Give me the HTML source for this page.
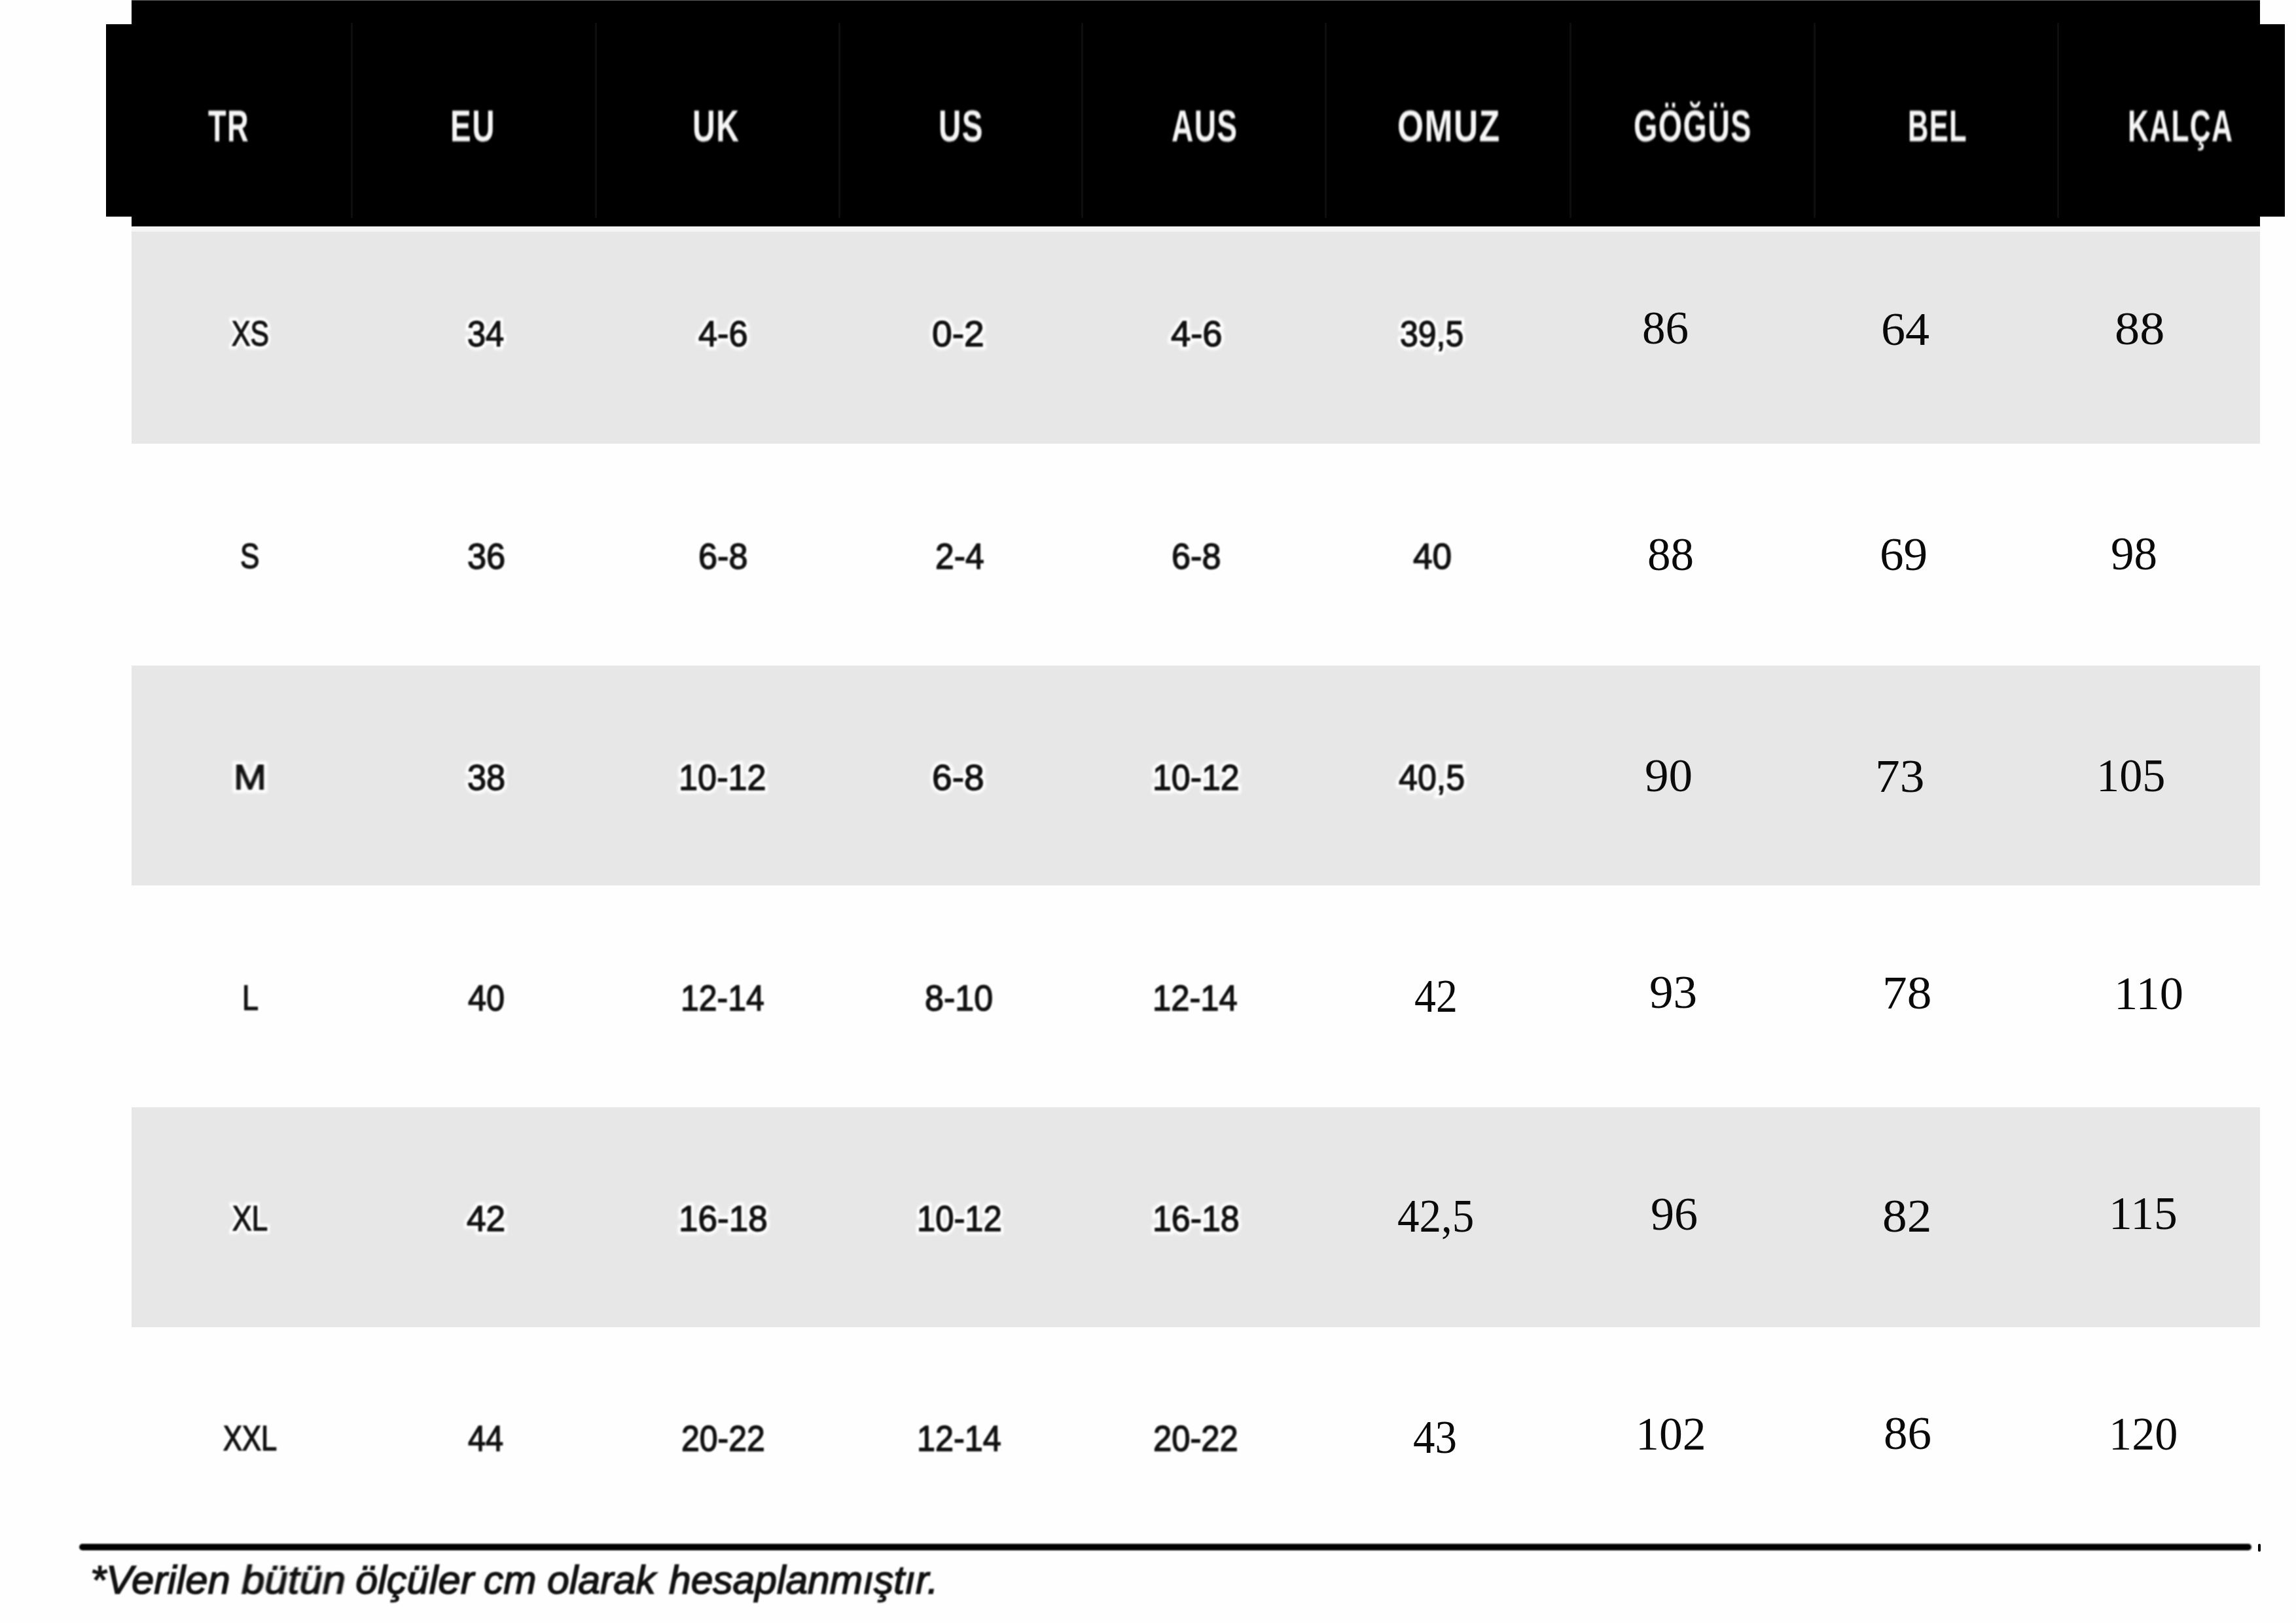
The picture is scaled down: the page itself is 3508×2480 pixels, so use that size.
<!DOCTYPE html>
<html><head><meta charset="utf-8">
<style>
html,body{margin:0;padding:0;}
body{width:3508px;height:2480px;background:#fefefe;position:relative;overflow:hidden;}
.b{position:absolute;}
.t{position:absolute;white-space:nowrap;line-height:1;transform-origin:0 0;}
.head{font-family:"Liberation Sans",sans-serif;font-weight:bold;color:#f6f6f6;filter:blur(1.6px);letter-spacing:2px;}
.sans{font-family:"Liberation Sans",sans-serif;color:#111;-webkit-text-stroke:1.5px #111;filter:blur(1.3px);}
.halo{font-family:"Liberation Sans",sans-serif;color:#fff;-webkit-text-stroke:11px #fff;filter:blur(2px);}
.serif{font-family:"Liberation Serif",serif;color:#0a0a0a;}
.foot{font-family:"Liberation Sans",sans-serif;font-style:italic;color:#111;-webkit-text-stroke:1.6px #111;filter:blur(1.3px);}
</style></head><body>
<div class="b" style="left:201px;top:0;width:3252px;height:346px;background:#000;"></div>
<div class="b" style="left:201px;top:0;width:3252px;height:1px;background:#5a5a5a;"></div>
<div class="b" style="left:162px;top:37px;width:39px;height:294px;background:#000;"></div>
<div class="b" style="left:3453px;top:37px;width:38px;height:294px;background:#000;"></div>
<div class="b" style="left:201px;top:347px;width:3252px;height:7px;background:#f5f5f5;"></div>
<div class="b" style="left:201px;top:354px;width:3252px;height:324px;background:#e7e7e7;"></div>
<div class="b" style="left:201px;top:1017px;width:3252px;height:336px;background:#e7e7e7;"></div>
<div class="b" style="left:201px;top:1692px;width:3252px;height:336px;background:#e7e7e7;"></div>
<div class="b" style="left:121px;top:2359px;width:3319px;height:10px;background:#000;border-radius:5px;filter:blur(1px);"></div>
<div class="b" style="left:3450px;top:2359px;width:4px;height:12px;background:#000;border-radius:2px;"></div>
<div class="b" style="left:536px;top:35px;width:3px;height:298px;background:#0e0e0e;"></div>
<div class="b" style="left:909px;top:35px;width:3px;height:298px;background:#0e0e0e;"></div>
<div class="b" style="left:1281px;top:35px;width:3px;height:298px;background:#0e0e0e;"></div>
<div class="b" style="left:1652px;top:35px;width:3px;height:298px;background:#0e0e0e;"></div>
<div class="b" style="left:2024px;top:35px;width:3px;height:298px;background:#0e0e0e;"></div>
<div class="b" style="left:2398px;top:35px;width:3px;height:298px;background:#0e0e0e;"></div>
<div class="b" style="left:2771px;top:35px;width:3px;height:298px;background:#0e0e0e;"></div>
<div class="b" style="left:3143px;top:35px;width:3px;height:298px;background:#0e0e0e;"></div>
<div class="t head" style="left:318.0px;top:157.8px;font-size:68.00px;transform:scaleX(0.6651)">TR</div>
<div class="t head" style="left:688.0px;top:157.8px;font-size:68.00px;transform:scaleX(0.6995)">EU</div>
<div class="t head" style="left:1058.0px;top:157.8px;font-size:68.00px;transform:scaleX(0.7070)">UK</div>
<div class="t head" style="left:1434.0px;top:157.8px;font-size:68.00px;transform:scaleX(0.6990)">US</div>
<div class="t head" style="left:1790.0px;top:157.8px;font-size:68.00px;transform:scaleX(0.6785)">AUS</div>
<div class="t head" style="left:2135.0px;top:157.8px;font-size:68.00px;transform:scaleX(0.7580)">OMUZ</div>
<div class="t head" style="left:2496.0px;top:157.8px;font-size:68.00px;transform:scaleX(0.6872)">GÖĞÜS</div>
<div class="t head" style="left:2915.0px;top:157.8px;font-size:68.00px;transform:scaleX(0.6401)">BEL</div>
<div class="t head" style="left:3251.0px;top:157.8px;font-size:68.00px;transform:scaleX(0.6503)">KALÇA</div>
<div class="t halo" style="left:354.0px;top:481.6px;font-size:54.00px;transform:scaleX(0.7904)">XS</div>
<div class="t sans" style="left:354.0px;top:481.6px;font-size:54.00px;transform:scaleX(0.7904)">XS</div>
<div class="t halo" style="left:714.0px;top:482.6px;font-size:55.00px;transform:scaleX(0.9183)">34</div>
<div class="t sans" style="left:714.0px;top:482.6px;font-size:55.00px;transform:scaleX(0.9183)">34</div>
<div class="t halo" style="left:1067.0px;top:482.6px;font-size:55.00px;transform:scaleX(0.9499)">4-6</div>
<div class="t sans" style="left:1067.0px;top:482.6px;font-size:55.00px;transform:scaleX(0.9499)">4-6</div>
<div class="t halo" style="left:1424.0px;top:482.6px;font-size:55.00px;transform:scaleX(1.0026)">0-2</div>
<div class="t sans" style="left:1424.0px;top:482.6px;font-size:55.00px;transform:scaleX(1.0026)">0-2</div>
<div class="t halo" style="left:1789.0px;top:482.6px;font-size:55.00px;transform:scaleX(0.9886)">4-6</div>
<div class="t sans" style="left:1789.0px;top:482.6px;font-size:55.00px;transform:scaleX(0.9886)">4-6</div>
<div class="t halo" style="left:2139.0px;top:482.6px;font-size:55.00px;transform:scaleX(0.9078)">39,5</div>
<div class="t sans" style="left:2139.0px;top:482.6px;font-size:55.00px;transform:scaleX(0.9078)">39,5</div>
<div class="t halo" style="left:367.0px;top:821.6px;font-size:54.00px;transform:scaleX(0.8151)">S</div>
<div class="t sans" style="left:367.0px;top:821.6px;font-size:54.00px;transform:scaleX(0.8151)">S</div>
<div class="t halo" style="left:714.0px;top:822.6px;font-size:55.00px;transform:scaleX(0.9508)">36</div>
<div class="t sans" style="left:714.0px;top:822.6px;font-size:55.00px;transform:scaleX(0.9508)">36</div>
<div class="t halo" style="left:1067.0px;top:822.6px;font-size:55.00px;transform:scaleX(0.9486)">6-8</div>
<div class="t sans" style="left:1067.0px;top:822.6px;font-size:55.00px;transform:scaleX(0.9486)">6-8</div>
<div class="t halo" style="left:1429.0px;top:822.6px;font-size:55.00px;transform:scaleX(0.9381)">2-4</div>
<div class="t sans" style="left:1429.0px;top:822.6px;font-size:55.00px;transform:scaleX(0.9381)">2-4</div>
<div class="t halo" style="left:1790.0px;top:822.6px;font-size:55.00px;transform:scaleX(0.9486)">6-8</div>
<div class="t sans" style="left:1790.0px;top:822.6px;font-size:55.00px;transform:scaleX(0.9486)">6-8</div>
<div class="t halo" style="left:2159.0px;top:822.6px;font-size:55.00px;transform:scaleX(0.9676)">40</div>
<div class="t sans" style="left:2159.0px;top:822.6px;font-size:55.00px;transform:scaleX(0.9676)">40</div>
<div class="t halo" style="left:357.0px;top:1160.6px;font-size:53.00px;transform:scaleX(1.1338)">M</div>
<div class="t sans" style="left:357.0px;top:1160.6px;font-size:53.00px;transform:scaleX(1.1338)">M</div>
<div class="t halo" style="left:714.0px;top:1160.6px;font-size:55.00px;transform:scaleX(0.9508)">38</div>
<div class="t sans" style="left:714.0px;top:1160.6px;font-size:55.00px;transform:scaleX(0.9508)">38</div>
<div class="t halo" style="left:1037.0px;top:1160.6px;font-size:55.00px;transform:scaleX(0.9504)">10-12</div>
<div class="t sans" style="left:1037.0px;top:1160.6px;font-size:55.00px;transform:scaleX(0.9504)">10-12</div>
<div class="t halo" style="left:1424.0px;top:1160.6px;font-size:55.00px;transform:scaleX(1.0012)">6-8</div>
<div class="t sans" style="left:1424.0px;top:1160.6px;font-size:55.00px;transform:scaleX(1.0012)">6-8</div>
<div class="t halo" style="left:1761.0px;top:1160.6px;font-size:55.00px;transform:scaleX(0.9432)">10-12</div>
<div class="t sans" style="left:1761.0px;top:1160.6px;font-size:55.00px;transform:scaleX(0.9432)">10-12</div>
<div class="t halo" style="left:2137.0px;top:1160.6px;font-size:55.00px;transform:scaleX(0.9456)">40,5</div>
<div class="t sans" style="left:2137.0px;top:1160.6px;font-size:55.00px;transform:scaleX(0.9456)">40,5</div>
<div class="t halo" style="left:370.0px;top:1497.6px;font-size:53.00px;transform:scaleX(0.8470)">L</div>
<div class="t sans" style="left:370.0px;top:1497.6px;font-size:53.00px;transform:scaleX(0.8470)">L</div>
<div class="t halo" style="left:715.0px;top:1497.6px;font-size:55.00px;transform:scaleX(0.9173)">40</div>
<div class="t sans" style="left:715.0px;top:1497.6px;font-size:55.00px;transform:scaleX(0.9173)">40</div>
<div class="t halo" style="left:1040.0px;top:1497.6px;font-size:55.00px;transform:scaleX(0.9079)">12-14</div>
<div class="t sans" style="left:1040.0px;top:1497.6px;font-size:55.00px;transform:scaleX(0.9079)">12-14</div>
<div class="t halo" style="left:1413.0px;top:1497.6px;font-size:55.00px;transform:scaleX(0.9456)">8-10</div>
<div class="t sans" style="left:1413.0px;top:1497.6px;font-size:55.00px;transform:scaleX(0.9456)">8-10</div>
<div class="t halo" style="left:1761.0px;top:1497.6px;font-size:55.00px;transform:scaleX(0.9222)">12-14</div>
<div class="t sans" style="left:1761.0px;top:1497.6px;font-size:55.00px;transform:scaleX(0.9222)">12-14</div>
<div class="t halo" style="left:355.0px;top:1834.6px;font-size:53.00px;transform:scaleX(0.8360)">XL</div>
<div class="t sans" style="left:355.0px;top:1834.6px;font-size:53.00px;transform:scaleX(0.8360)">XL</div>
<div class="t halo" style="left:713.0px;top:1834.6px;font-size:55.00px;transform:scaleX(0.9682)">42</div>
<div class="t sans" style="left:713.0px;top:1834.6px;font-size:55.00px;transform:scaleX(0.9682)">42</div>
<div class="t halo" style="left:1037.0px;top:1834.6px;font-size:55.00px;transform:scaleX(0.9651)">16-18</div>
<div class="t sans" style="left:1037.0px;top:1834.6px;font-size:55.00px;transform:scaleX(0.9651)">16-18</div>
<div class="t halo" style="left:1401.0px;top:1834.6px;font-size:55.00px;transform:scaleX(0.9217)">10-12</div>
<div class="t sans" style="left:1401.0px;top:1834.6px;font-size:55.00px;transform:scaleX(0.9217)">10-12</div>
<div class="t halo" style="left:1761.0px;top:1834.6px;font-size:55.00px;transform:scaleX(0.9436)">16-18</div>
<div class="t sans" style="left:1761.0px;top:1834.6px;font-size:55.00px;transform:scaleX(0.9436)">16-18</div>
<div class="t halo" style="left:341.0px;top:2170.6px;font-size:53.00px;transform:scaleX(0.8201)">XXL</div>
<div class="t sans" style="left:341.0px;top:2170.6px;font-size:53.00px;transform:scaleX(0.8201)">XXL</div>
<div class="t halo" style="left:715.0px;top:2170.6px;font-size:55.00px;transform:scaleX(0.8862)">44</div>
<div class="t sans" style="left:715.0px;top:2170.6px;font-size:55.00px;transform:scaleX(0.8862)">44</div>
<div class="t halo" style="left:1041.0px;top:2170.6px;font-size:55.00px;transform:scaleX(0.9080)">20-22</div>
<div class="t sans" style="left:1041.0px;top:2170.6px;font-size:55.00px;transform:scaleX(0.9080)">20-22</div>
<div class="t halo" style="left:1401.0px;top:2170.6px;font-size:55.00px;transform:scaleX(0.9151)">12-14</div>
<div class="t sans" style="left:1401.0px;top:2170.6px;font-size:55.00px;transform:scaleX(0.9151)">12-14</div>
<div class="t halo" style="left:1762.0px;top:2170.6px;font-size:55.00px;transform:scaleX(0.9222)">20-22</div>
<div class="t sans" style="left:1762.0px;top:2170.6px;font-size:55.00px;transform:scaleX(0.9222)">20-22</div>
<div class="t serif" style="left:2509.0px;top:466.4px;font-size:71.00px;transform:scaleX(1.0009)">86</div>
<div class="t serif" style="left:2874.0px;top:468.4px;font-size:71.00px;transform:scaleX(1.0443)">64</div>
<div class="t serif" style="left:3231.0px;top:467.4px;font-size:71.00px;transform:scaleX(1.0755)">88</div>
<div class="t serif" style="left:2517.0px;top:812.4px;font-size:71.00px;transform:scaleX(1.0009)">88</div>
<div class="t serif" style="left:2872.0px;top:812.4px;font-size:71.00px;transform:scaleX(1.0308)">69</div>
<div class="t serif" style="left:3225.0px;top:811.4px;font-size:71.00px;transform:scaleX(1.0009)">98</div>
<div class="t serif" style="left:2513.0px;top:1150.4px;font-size:71.00px;transform:scaleX(1.0303)">90</div>
<div class="t serif" style="left:2865.0px;top:1151.4px;font-size:71.00px;transform:scaleX(1.0622)">73</div>
<div class="t serif" style="left:3203.0px;top:1150.4px;font-size:71.00px;transform:scaleX(0.9901)">105</div>
<div class="t serif" style="left:2161.0px;top:1487.4px;font-size:71.00px;transform:scaleX(0.9275)">42</div>
<div class="t serif" style="left:2520.0px;top:1481.4px;font-size:71.00px;transform:scaleX(1.0303)">93</div>
<div class="t serif" style="left:2876.0px;top:1482.4px;font-size:71.00px;transform:scaleX(1.0622)">78</div>
<div class="t serif" style="left:3230.0px;top:1483.4px;font-size:71.00px;transform:scaleX(1.0212)">110</div>
<div class="t serif" style="left:2135.0px;top:1823.4px;font-size:71.00px;transform:scaleX(0.9442)">42,5</div>
<div class="t serif" style="left:2522.0px;top:1820.4px;font-size:71.00px;transform:scaleX(1.0154)">96</div>
<div class="t serif" style="left:2876.0px;top:1823.4px;font-size:71.00px;transform:scaleX(1.0615)">82</div>
<div class="t serif" style="left:3222.0px;top:1819.4px;font-size:71.00px;transform:scaleX(1.0092)">115</div>
<div class="t serif" style="left:2159.0px;top:2161.4px;font-size:71.00px;transform:scaleX(0.9430)">43</div>
<div class="t serif" style="left:2499.0px;top:2156.4px;font-size:71.00px;transform:scaleX(1.0108)">102</div>
<div class="t serif" style="left:2878.0px;top:2155.4px;font-size:71.00px;transform:scaleX(1.0303)">86</div>
<div class="t serif" style="left:3222.0px;top:2156.4px;font-size:71.00px;transform:scaleX(0.9904)">120</div>
<div class="t foot" style="left:138.0px;top:2384.0px;font-size:61.00px;transform:scaleX(1.0120)">*Verilen</div>
<div class="t foot" style="left:369.0px;top:2384.0px;font-size:61.00px;transform:scaleX(1.0424)">bütün</div>
<div class="t foot" style="left:543.0px;top:2384.0px;font-size:61.00px;transform:scaleX(1.0079)">ölçüler</div>
<div class="t foot" style="left:739.0px;top:2384.0px;font-size:61.00px;transform:scaleX(0.9895)">cm</div>
<div class="t foot" style="left:836.0px;top:2384.0px;font-size:61.00px;transform:scaleX(0.9963)">olarak</div>
<div class="t foot" style="left:1022.0px;top:2384.0px;font-size:61.00px;transform:scaleX(0.9925)">hesaplanmıştır.</div>
</body></html>
